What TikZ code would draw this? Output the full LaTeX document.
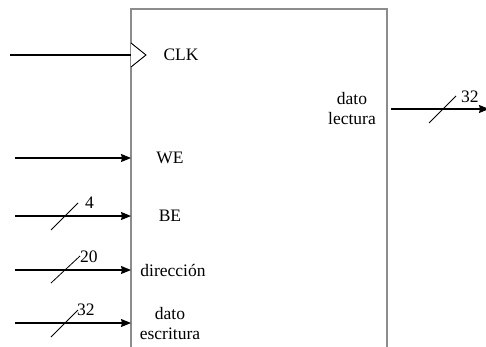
\documentclass[tikz,border=0pt]{standalone}
\usepackage{fontspec}
\setmainfont{Liberation Serif}
\usetikzlibrary{arrows.meta}
\begin{document}
\begin{tikzpicture}[x=1pt,y=-1pt,
  sig/.style={draw=black,line width=1.2pt,-{Stealth[length=10pt,width=8pt,inset=1pt]}},
  slash/.style={draw=black,line width=0.8pt},
  lbl/.style={font=\fontsize{17.5}{20}\selectfont,inner sep=0pt,align=center},
  wlbl/.style={font=\fontsize{17.5}{20}\selectfont,inner sep=0pt,anchor=south west}]
\useasboundingbox (0,0) rectangle (486,347);
% block
\coordinate (bl) at (131,350);
\coordinate (tl) at (131,9);
\coordinate (tr) at (387,9);
\coordinate (br) at (387,350);
\draw[draw=gray!90,line width=2pt] (bl) -- (tl) -- (tr) -- (br);
% clock
\coordinate (clkin) at (10,55);
\coordinate (clkpin) at (131,55);
\draw[line width=1.2pt] (clkin) -- (clkpin);
\draw[line width=0.9pt,fill=white] (131,43) -- (146,55) -- (131,67);
\node[lbl] (clk) at (181,55) {CLK};
% WE
\coordinate (wein) at (15,158);
\coordinate (wepin) at (131,158);
\draw[sig] (wein) -- (wepin);
\node[lbl] (we) at (170,158) {WE};
% BE
\coordinate (bein) at (15,216);
\coordinate (bepin) at (131,216);
\draw[sig] (bein) -- (bepin);
\draw[slash] (51,230) -- (78,203);
\node[wlbl] (bew) at (85,209) {4};
\node[lbl] (be) at (170,216) {BE};
% direccion
\coordinate (dirin) at (15,270);
\coordinate (dirpin) at (131,270);
\draw[sig] (dirin) -- (dirpin);
\draw[slash] (51,283) -- (80,256);
\node[wlbl] (dirw) at (80,263) {20};
\node[lbl] (dir) at (173,270) {dirección};
% dato escritura
\coordinate (dein) at (15,323);
\coordinate (depin) at (131,323);
\draw[sig] (dein) -- (depin);
\draw[slash] (51,337) -- (78,310);
\node[wlbl] (dew) at (77,316) {32};
\node[lbl] (de) at (170,324) {dato\\escritura};
% dato lectura
\node[lbl] (dl) at (352,109) {dato\\lectura};
\coordinate (dlpin) at (391,109);
\coordinate (dlout) at (489,109);
\draw[sig] (dlpin) -- (dlout);
\draw[slash] (429,123) -- (456,96);
\node[wlbl] (dlw) at (461,103) {32};
\end{tikzpicture}
\end{document}
